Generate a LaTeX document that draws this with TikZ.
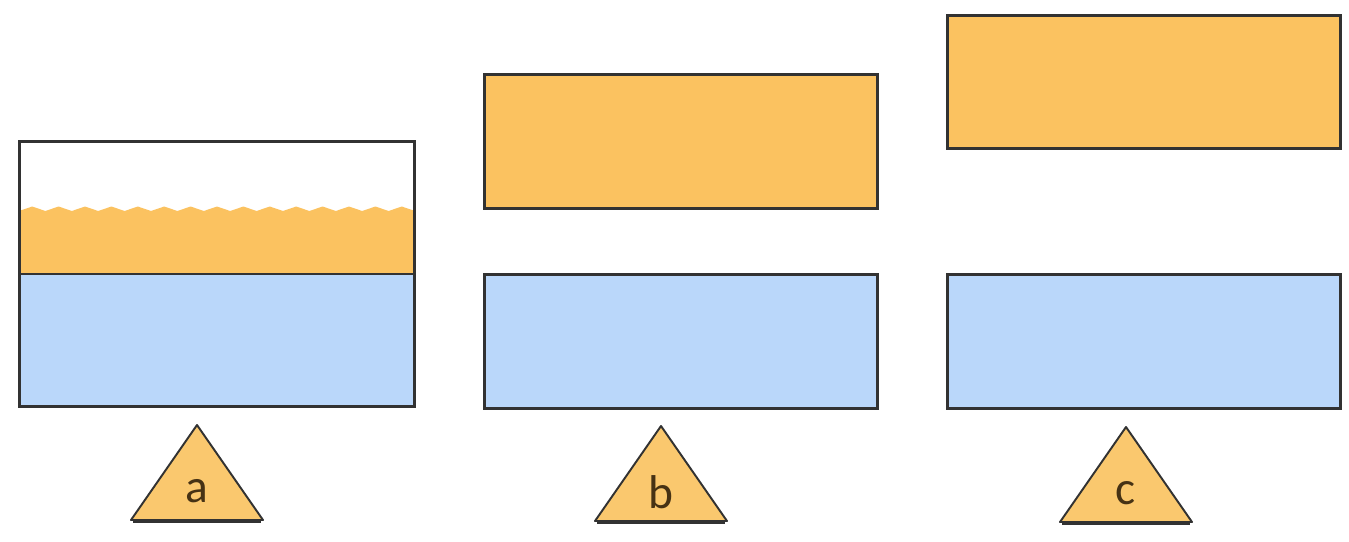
\documentclass[tikz,border=0pt]{standalone}
\usepackage{fontspec}
\newfontfamily\tagfont{Carlito}
\usepackage{xcolor}
\usepackage{tikz}
\usetikzlibrary{positioning}

\definecolor{oilc}{RGB}{251,194,96}
\definecolor{waterc}{RGB}{186,215,250}
\definecolor{edgec}{RGB}{50,50,50}
\definecolor{tagc}{RGB}{250,200,110}
\definecolor{letterc}{RGB}{70,50,20}

\begin{document}
\begin{tikzpicture}[
		x=0.02cm, y=-0.02cm,
		edge/.style={draw=edgec, line width=1.7pt},
		layer/.style={edge, rectangle, inner sep=0pt, minimum width=7.88cm, minimum height=2.68cm},
		oil/.style={layer, fill=oilc},
		water/.style={layer, fill=waterc},
		tri/.style={draw=edgec, line width=1.1pt, fill=tagc, line join=round},
		tag/.style={font=\tagfont\fontsize{27}{27}\selectfont, text=letterc, inner sep=0pt}
		]
		\useasboundingbox (0,0) rectangle (1349,541);
		
		% Panel a: mixed, foam on top
		\fill[white] (19,141) rectangle (415,407);
		\fill[oilc] (19,274) -- (19,211)
		\foreach \i in {1,...,15}{ -- ++(13.2,-4.5) -- ++(13.2,4.5)} -- (415,274) -- cycle;
		\fill[waterc] (19,274) rectangle (415,407);
		\draw[edge] (19,274) -- (415,274);
		\node[edge, rectangle, inner sep=0pt, minimum width=7.92cm, minimum height=5.32cm] (mixa) at (217,274) {};
		
		% Panel b: layers slightly apart
		\node[oil] (oilb) at (681,141.5) {};
		\node[water] (waterb) at (681,341.5) {};
		
		% Panel c: layers far apart
		\node[oil] (oilc) at (1144,82) {};
		\node[water] (waterc) at (1144,341.5) {};
		
		% Labels in triangles
		\foreach \x/\y/\t in {197/520/a, 661/521/b, 1126/522/c}{
			\draw[tri] (\x-66,\y) -- (\x,\y-95) -- (\x+66,\y) -- cycle;
			\draw[edgec, line width=2.6pt] (\x-64,\y+1) -- (\x+64,\y+1);
			\node[tag] (tag\t) at (\x,\y-29) {\t};
		}
	\end{tikzpicture}
\end{document}
